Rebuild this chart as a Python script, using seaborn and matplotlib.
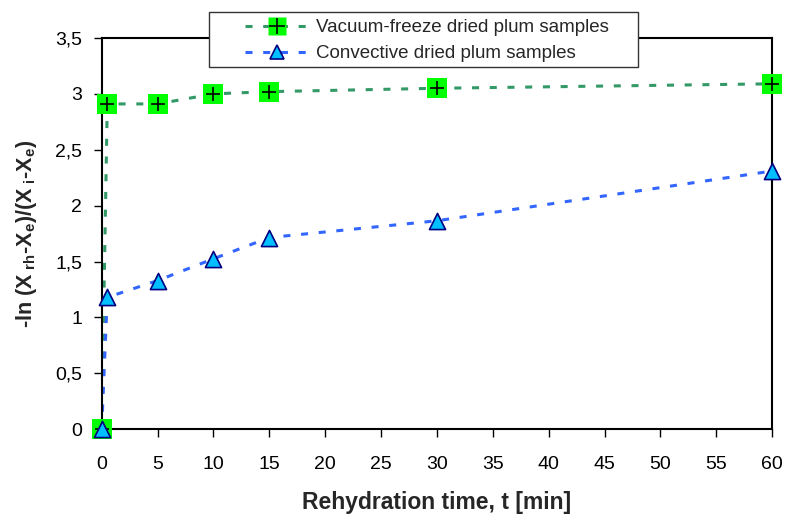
import matplotlib
matplotlib.use("Agg")
import matplotlib.pyplot as plt
import seaborn as sns
import pandas as pd
from matplotlib.ticker import FuncFormatter, MultipleLocator
from matplotlib.lines import Line2D
from matplotlib.patches import Rectangle
from matplotlib.legend_handler import HandlerTuple

# ---- data ----
time_min = [0, 0.5, 5, 10, 15, 30, 60]
vacuum_freeze = [0.0, 2.91, 2.91, 3.00, 3.02, 3.05, 3.09]
convective = [0.0, 1.18, 1.33, 1.525, 1.715, 1.865, 2.31]
series_labels = ["Vacuum-freeze dried plum samples", "Convective dried plum samples"]
x_ticks = list(range(0, 61, 5))

sns.set_theme(style="white")
plt.rcParams['font.family'] = ['Liberation Sans', 'DejaVu Sans']
plt.rcParams['mathtext.default'] = 'regular'

fig = plt.figure(figsize=(7.87, 5.2), dpi=100)
ax = fig.add_axes([0.1292, 0.1744, 0.852, 0.7526])

green_line = "#339966"
blue_line = "#3366FF"
dash = (0, (2.3, 3.5))
LW = 2.2

df_v = pd.DataFrame({"t": time_min, "v": vacuum_freeze})
df_c = pd.DataFrame({"t": time_min, "v": convective})

sns.lineplot(data=df_v, x="t", y="v", ax=ax, color=green_line, lw=LW,
             linestyle=dash, sort=False, estimator=None, zorder=2)
sns.lineplot(data=df_c, x="t", y="v", ax=ax, color=blue_line, lw=LW,
             linestyle=dash, sort=False, estimator=None, zorder=2)

sns.scatterplot(data=df_v, x="t", y="v", ax=ax, marker="s", s=207, color="#00FF00",
                edgecolor="none", linewidth=0, zorder=4, clip_on=False)
sns.scatterplot(data=df_v, x="t", y="v", ax=ax, marker="+", s=110, color="black",
                linewidth=1.2, zorder=5, clip_on=False)
sns.scatterplot(data=df_c, x="t", y="v", ax=ax, marker="^", s=135, color="#00BFFF",
                edgecolor="#000080", linewidth=1.2, zorder=6, clip_on=False)

ax.set_xlim(0, 60)
ax.set_ylim(0, 3.5)
ax.set_xticks(x_ticks)
ax.yaxis.set_major_locator(MultipleLocator(0.5))
fmt = FuncFormatter(lambda v, p: ("%g" % v).replace(".", ","))
ax.yaxis.set_major_formatter(fmt)
ax.xaxis.set_major_formatter(FuncFormatter(lambda v, p: "%d" % v))

for s in ax.spines.values():
    s.set_visible(True)
    s.set_color("black")
    s.set_linewidth(1.5)
    s.set_zorder(3)

ax.tick_params(axis="both", which="major", direction="out", length=6, width=1,
               color="black", labelsize=14, labelcolor="black",
               bottom=True, left=True)
ax.tick_params(axis="x", pad=13)
ax.tick_params(axis="y", pad=8)

ax.set_xlabel("Rehydration time, t [min]", fontsize=16.5, fontweight="bold", labelpad=13)
ax.set_ylabel("-ln (X$_{\\ rh}$-X$_e$)/(X$_{\\ i}$-X$_e$)", fontsize=15.5,
              fontweight="bold", labelpad=12)

# legend frame (Excel-style box, partly above the plot area)
box = Rectangle((209 / 787, 1 - 67 / 520), 429 / 787, 55 / 520,
                transform=fig.transFigure, facecolor="white", edgecolor="#333333",
                linewidth=1.0, zorder=8)
fig.patches.append(box)

h_v = (Line2D([], [], color=green_line, lw=LW, linestyle=dash, marker="s",
              markersize=12.5, markerfacecolor="#00FF00", markeredgecolor="none"),
       Line2D([], [], color="black", lw=0, marker="+", markersize=11, markeredgewidth=1.2))
h_c = Line2D([], [], color=blue_line, lw=LW, linestyle=dash, marker="^",
             markersize=10, markerfacecolor="#00BFFF", markeredgecolor="#000080",
             markeredgewidth=1.2)

leg = fig.legend([h_v, h_c], series_labels, loc="upper left",
                 bbox_to_anchor=(245 / 787, 1 - 19 / 520), bbox_transform=fig.transFigure,
                 handler_map={tuple: HandlerTuple(ndivide=1, pad=0)},
                 fontsize=13.5, frameon=False, handlelength=3.4, borderpad=0,
                 labelspacing=0.48, handletextpad=0.4, borderaxespad=0)
leg.set_zorder(10)

fig.savefig("out.png", dpi=100)
